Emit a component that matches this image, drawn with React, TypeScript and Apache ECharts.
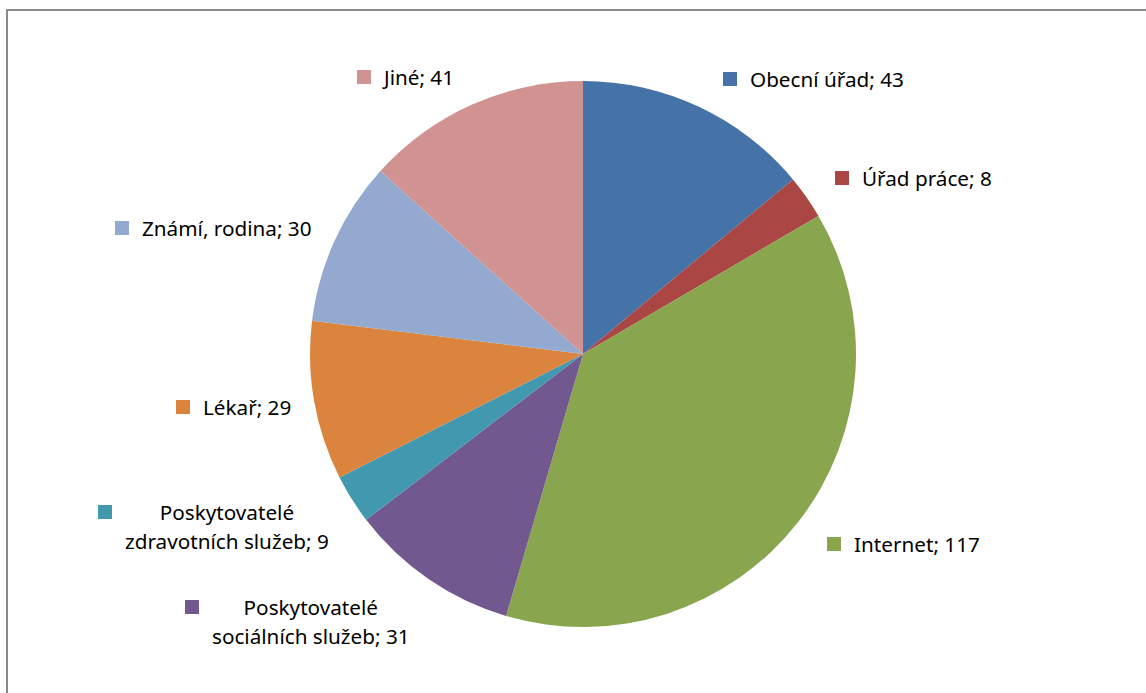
import React, { useEffect, useRef } from "react";
import * as echarts from "echarts";

const CATEGORIES = [
  "Obecní úřad",
  "Úřad práce",
  "Internet",
  "Poskytovatelé sociálních služeb",
  "Poskytovatelé zdravotních služeb",
  "Lékař",
  "Známí, rodina",
  "Jiné",
];
const VALUES = [43, 8, 117, 31, 9, 29, 30, 41];
const COLORS = ["#4572A7", "#AA4643", "#89A54E", "#71588F", "#4198AF", "#DB843D", "#93A9CF", "#D19392"];
// top-left anchor of each label block (square key + text)
const LABEL_POS: [number, number][] = [
  [723, 64.5],
  [835, 163.5],
  [827, 529.5],
  [185, 592.5],
  [98, 497.5],
  [176, 392.5],
  [115, 213.5],
  [357, 62.5],
];

export default function App() {
  const ref = useRef<HTMLDivElement>(null);
  useEffect(() => {
    if (!ref.current) return;
    const chart = echarts.init(ref.current, null, { renderer: "svg" });
    const rich: any = {
      g: { width: 13, height: 14 },
      sp: { width: 27, height: 14 },
      t: {
        fontFamily: "Noto Sans",
        fontSize: 20.7,
        lineHeight: 29,
        color: "#000",
        align: "center",
      },
    };
    COLORS.forEach((c, i) => {
      rich["sq" + i] = { width: 14, height: 14, backgroundColor: c };
    });
    chart.setOption({
      animation: false,
      backgroundColor: "#fff",
      graphic: [
        {
          type: "rect",
          shape: { x: 7, y: 10, width: 1300, height: 900 },
          style: { fill: "none", stroke: "#898989", lineWidth: 2 },
          silent: true,
        },
      ],
      series: [
        {
          type: "pie",
          center: [583, 354],
          radius: 273,
          startAngle: 90,
          clockwise: true,
          avoidLabelOverlap: false,
          data: CATEGORIES.map((n, i) => ({
            name: n,
            value: VALUES[i],
            itemStyle: { color: COLORS[i] },
          })),
          label: {
            show: true,
            position: "outside",
            formatter: (p: any) => {
              const i = p.dataIndex;
              const name: string = p.name;
              const text = `${name}; ${p.value}`;
              if (name.startsWith("Poskytovatelé ")) {
                const rest = text.slice("Poskytovatelé ".length);
                return `{sq${i}|}{g|}{t|Poskytovatelé}\n{sp|}{t|${rest}}`;
              }
              return `{sq${i}|}{g|}{t|${text}}`;
            },
            rich,
          },
          labelLine: { show: false },
          labelLayout: (params: any) => {
            const pos = LABEL_POS[params.dataIndex];
            return {
              x: pos[0],
              y: pos[1],
              align: "left",
              verticalAlign: "top",
            };
          },
          emphasis: { disabled: true },
        },
      ],
    });
    return () => chart.dispose();
  }, []);
  return (
    <div
      ref={ref}
      style={{ position: "fixed", left: 0, top: 0, width: 1146, height: 693 }}
    />
  );
}
